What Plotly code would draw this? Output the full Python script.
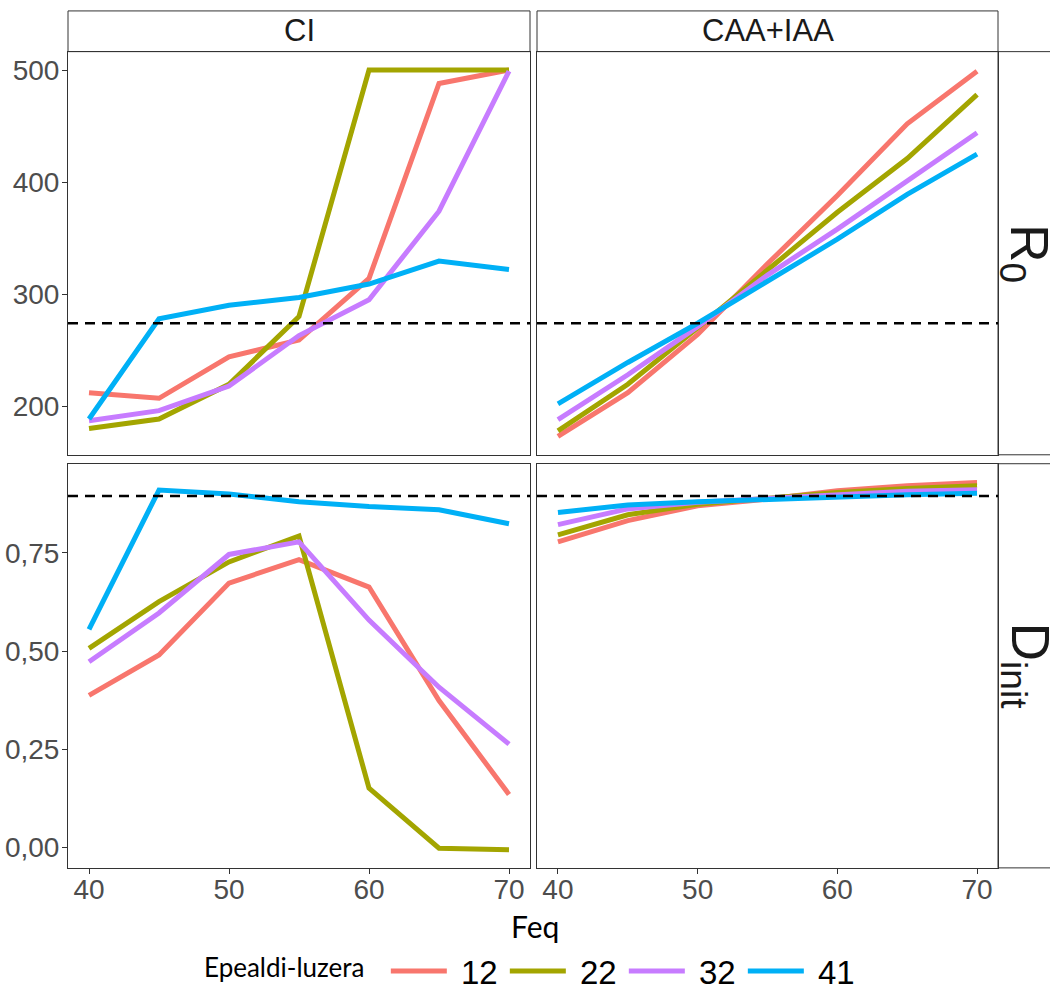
import plotly.graph_objects as go

W, H = 1050, 999

feq = [40, 45, 50, 55, 60, 65, 70]
groups = ["12", "22", "32", "41"]
colors = ["#F8766D", "#A3A500", "#C77CFF", "#00B0F6"]

# R0, CI
r0_ci_12 = [212, 207, 244, 259, 314, 488, 500]
r0_ci_22 = [180, 188.5, 219.5, 280, 500, 500, 500]
r0_ci_32 = [187, 196, 218, 263, 295, 374, 499]
r0_ci_41 = [188.5, 278, 290, 297, 309, 329.5, 322]
# R0, CAA+IAA
r0_caa_12 = [173, 212, 264, 327, 388, 452, 499]
r0_caa_22 = [178, 219.5, 270, 322, 373, 421, 478]
r0_caa_32 = [188, 228, 271, 317, 358, 401, 444]
r0_caa_41 = [202, 239, 274, 312, 349, 389, 425]
# Dinit, CI
d_ci_12 = [0.387, 0.490, 0.673, 0.733, 0.663, 0.374, 0.135]
d_ci_22 = [0.507, 0.626, 0.727, 0.793, 0.151, -0.002, -0.006]
d_ci_32 = [0.473, 0.597, 0.746, 0.778, 0.579, 0.408, 0.263]
d_ci_41 = [0.555, 0.910, 0.900, 0.880, 0.868, 0.860, 0.824]
# Dinit, CAA+IAA
d_caa_12 = [0.778, 0.832, 0.870, 0.887, 0.908, 0.921, 0.929]
d_caa_22 = [0.796, 0.847, 0.874, 0.889, 0.904, 0.914, 0.921]
d_caa_32 = [0.822, 0.862, 0.879, 0.889, 0.900, 0.907, 0.911]
d_caa_41 = [0.853, 0.872, 0.880, 0.887, 0.894, 0.898, 0.902]

r0_ref = 274
d_ref = 0.895

x_ticks = [40, 50, 60, 70]
r0_ticks = [200, 300, 400, 500]
d_ticks = [0, 0.25, 0.5, 0.75]
d_ticktext = ["0,00", "0,25", "0,50", "0,75"]

panels = {
    ("x", "y"): [r0_ci_12, r0_ci_22, r0_ci_32, r0_ci_41],
    ("x2", "y2"): [r0_caa_12, r0_caa_22, r0_caa_32, r0_caa_41],
    ("x3", "y3"): [d_ci_12, d_ci_22, d_ci_32, d_ci_41],
    ("x4", "y4"): [d_caa_12, d_caa_22, d_caa_32, d_caa_41],
}

NB = "\u00a0"

fig = go.Figure()
first = True
for (xa, ya), series in panels.items():
    for g, c, vals in zip(groups, colors, series):
        fig.add_trace(go.Scatter(
            x=feq, y=vals, xaxis=xa, yaxis=ya, mode="lines",
            line=dict(color=c, width=5), name=NB + g, legendgroup=g,
            showlegend=first))
    first = False

def px_x(p):
    return p / W

def px_y(p):
    return 1 - p / H

colL = [px_x(68), px_x(530)]
colR = [px_x(537), px_x(998)]
rowT = [px_y(458), px_y(52)]
rowB = [px_y(874), px_y(467)]

tickfont = dict(family="Liberation Sans, Arial", size=28, color="#4D4D4D")
axis_common = dict(showline=True, mirror=True, linecolor="#333333", linewidth=1,
                   showgrid=False, zeroline=False, tickfont=tickfont,
                   ticklen=5, tickcolor="#333333", tickwidth=1)
xr = [38.5, 71.5]
r0_range = [156.6, 516.4]
d_range = [-0.052, 0.977]

fig.update_layout(
    xaxis=dict(domain=colL, anchor="y", range=xr, showticklabels=False, ticks="", **axis_common),
    yaxis=dict(domain=rowT, anchor="x", range=r0_range, tickvals=r0_ticks, ticks="outside",
               ticklabelstandoff=-3, **axis_common),
    xaxis2=dict(domain=colR, anchor="y2", range=xr, showticklabels=False, ticks="", **axis_common),
    yaxis2=dict(domain=rowT, anchor="x2", range=r0_range, showticklabels=False, ticks="", **axis_common),
    xaxis3=dict(domain=colL, anchor="y3", range=xr, tickvals=x_ticks, ticks="outside",
                ticklabelstandoff=-8, **axis_common),
    yaxis3=dict(domain=rowB, anchor="x3", range=d_range, tickvals=d_ticks, ticktext=d_ticktext,
                ticks="outside", ticklabelstandoff=-3, **axis_common),
    xaxis4=dict(domain=colR, anchor="y4", range=xr, tickvals=x_ticks, ticks="outside",
                ticklabelstandoff=-8, **axis_common),
    yaxis4=dict(domain=rowB, anchor="x4", range=d_range, showticklabels=False, ticks="", **axis_common),
)

shapes = []
for xa, ya, val in [("x", "y", r0_ref), ("x2", "y2", r0_ref), ("x3", "y3", d_ref), ("x4", "y4", d_ref)]:
    shapes.append(dict(type="line", xref=xa + " domain", x0=0, x1=1, yref=ya, y0=val, y1=val,
                       line=dict(color="black", width=2.5, dash="10px,7px"), layer="above"))
for dom in [colL, colR]:
    shapes.append(dict(type="rect", xref="paper", yref="paper", x0=dom[0], x1=dom[1],
                       y0=px_y(52), y1=px_y(11), line=dict(color="#333333", width=1),
                       fillcolor="white", layer="below"))
for dom in [rowT, rowB]:
    shapes.append(dict(type="rect", xref="paper", yref="paper", x0=px_x(998), x1=px_x(1070),
                       y0=dom[0], y1=dom[1], line=dict(color="#333333", width=1),
                       fillcolor="white", layer="below"))

annotations = []
stripfont = dict(family="Liberation Sans, Arial", size=31, color="#1A1A1A")
for dom, txt in [(colL, "CI"), (colR, "CAA+IAA")]:
    annotations.append(dict(x=(dom[0] + dom[1]) / 2, y=px_y(31), xref="paper", yref="paper",
                            text=txt, showarrow=False, font=stripfont,
                            xanchor="center", yanchor="middle"))
rfont = dict(family="Liberation Sans, Arial", size=53, color="#1A1A1A")
annotations.append(dict(x=px_x(1026), y=(rowT[0] + rowT[1]) / 2, xref="paper", yref="paper",
                        text="R<sub>0</sub>", textangle=90, showarrow=False, font=rfont,
                        xanchor="center", yanchor="middle"))
annotations.append(dict(x=px_x(1026), y=(rowB[0] + rowB[1]) / 2, xref="paper", yref="paper",
                        text="D<sub>init</sub>", textangle=90, showarrow=False, font=rfont,
                        xanchor="center", yanchor="middle"))
annotations.append(dict(x=px_x(535), y=px_y(933), xref="paper", yref="paper", text="Feq",
                        showarrow=False, font=dict(family="Lato, Noto Sans", size=30, color="black"),
                        xanchor="center", yanchor="middle"))

fig.update_layout(
    width=W, height=H, margin=dict(l=0, r=0, t=0, b=0),
    paper_bgcolor="white", plot_bgcolor="white",
    shapes=shapes, annotations=annotations,
    showlegend=True,
    legend=dict(orientation="h", x=px_x(202), xanchor="left", y=px_y(978), yanchor="middle",
                title=dict(text="Epealdi-luzera" + NB + NB, side="left",
                           font=dict(family="Lato, Noto Sans", size=26, color="black")),
                font=dict(family="Liberation Sans Narrow, Arial Narrow, Liberation Sans", size=33,
                          color="black"),
                itemwidth=56, entrywidth=48, bgcolor="rgba(0,0,0,0)"),
)

fig.write_html("out.html")
